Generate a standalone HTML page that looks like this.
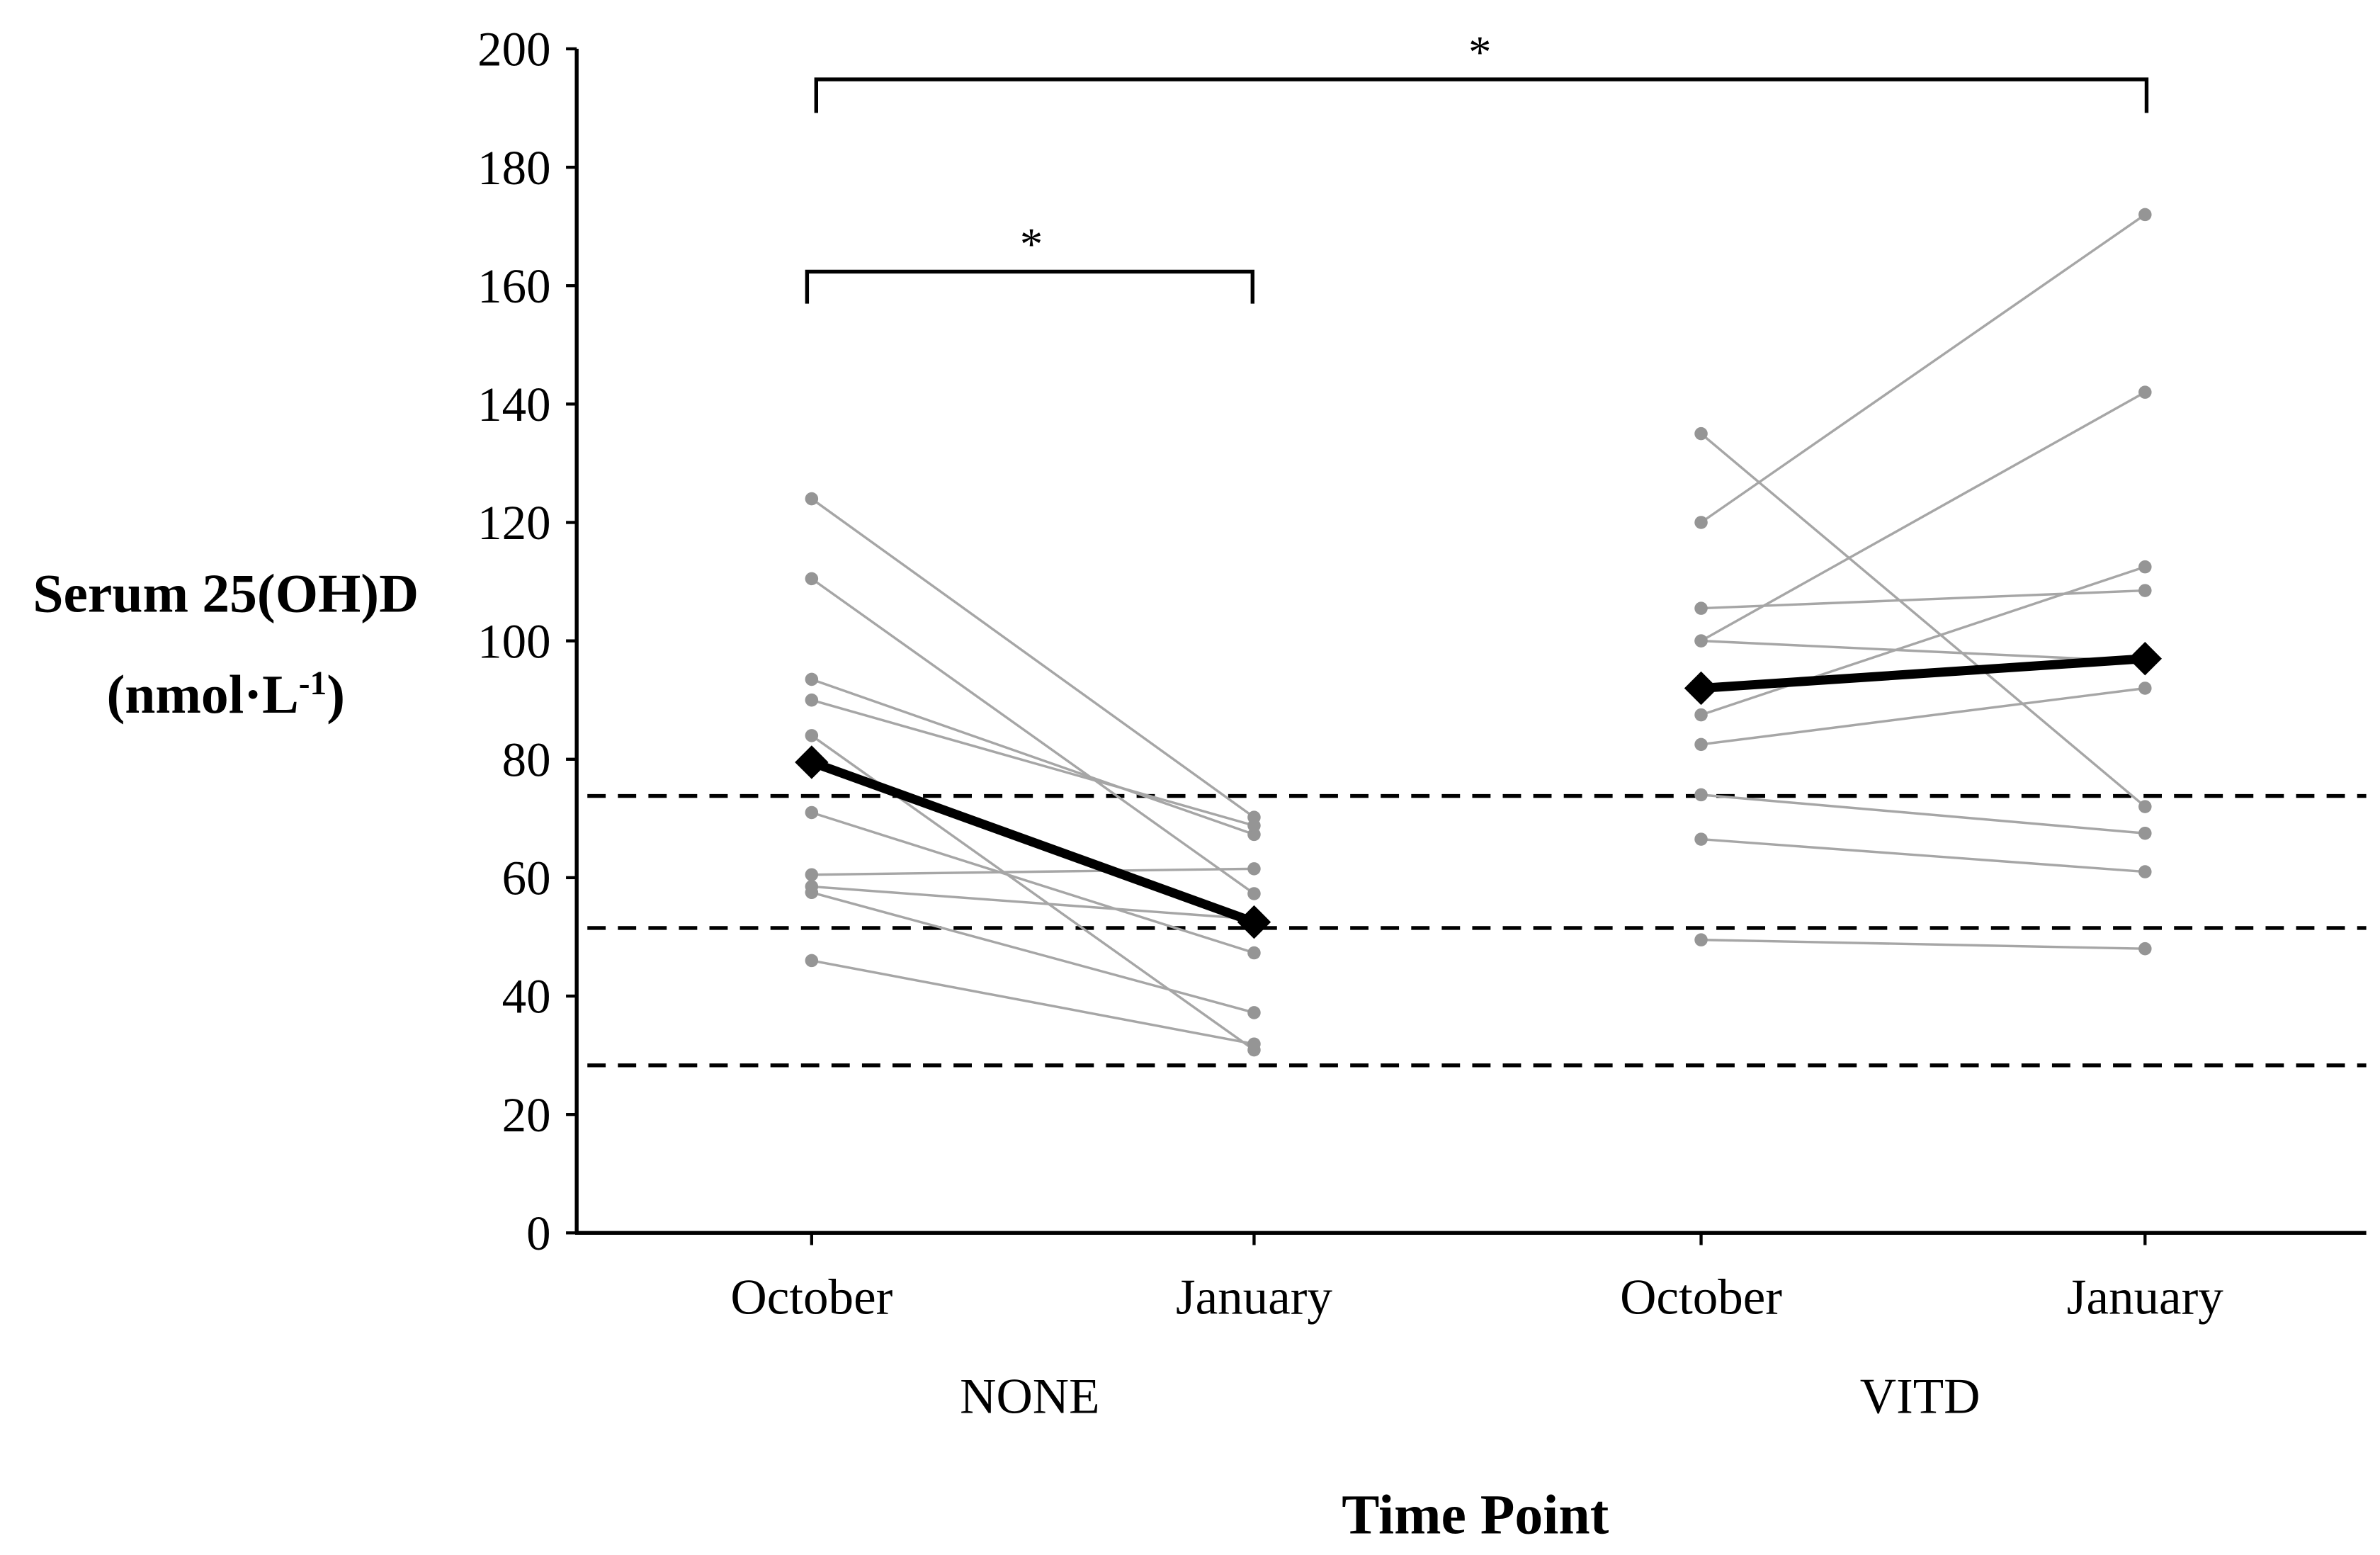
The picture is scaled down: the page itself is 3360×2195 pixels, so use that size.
<!DOCTYPE html>
<html><head><meta charset="utf-8"><style>html,body{margin:0;padding:0;background:#fff}svg{display:block}</style></head>
<body>
<svg id="chart" xmlns="http://www.w3.org/2000/svg" width="3360" height="2195" viewBox="0 0 1560 1019.1" font-family="'Liberation Serif', serif">
<g id="axes"></g>
<g id="refs"></g>
<g id="indiv"></g>
<g id="means"></g>
<g id="ann"></g>
<text x="148" y="401" text-anchor="middle" font-weight="bold" font-size="36">Serum 25(OH)D</text>
<text x="148" y="467" text-anchor="middle" font-weight="bold" font-size="36">(nmol·L<tspan dy="-12" font-size="22">-1</tspan><tspan dy="12">)</tspan></text>
<text x="967" y="1005" text-anchor="middle" font-weight="bold" font-size="37">Time Point</text>
</svg>
<script>
const categories = ["October","January","October","January"];
const groups = ["NONE","VITD"];
const yTicks = [0,20,40,60,80,100,120,140,160,180,200];
const refLines = [73.8,51.5,28.3];
const noneOct = [124,110.5,93.5,90,84,71,60.5,58.5,57.5,46];
const noneJan = [70.2,57.3,67.3,68.8,30.9,47.3,61.5,53,37.2,31.9];
const vitdOct = [135,120,100,105.5,100,87.5,82.5,74,66.5,49.5];
const vitdJan = [72,172,142,108.5,96.5,112.5,92,67.5,61,48];
const meanNone = [79.5,52.5];
const meanVitd = [92,97];

const NS="http://www.w3.org/2000/svg";
const catX=[532,822,1115,1406];
const xAt=i=>catX[i];
const yAt=v=>808-v*3.88;
function mk(parent,tag,attrs){const e=document.createElementNS(NS,tag);for(const k in attrs)e.setAttribute(k,attrs[k]);parent.appendChild(e);return e;}
const axes=document.getElementById('axes');
let e=mk(axes,'line',{x1:378,y1:yAt(200),x2:378,y2:808,stroke:'#000','stroke-width':2.5});


e=mk(axes,'line',{x1:377,y1:808,x2:1551,y2:808,stroke:'#000','stroke-width':2.5});


yTicks.forEach(t=>{
  const y=yAt(t);
  let l=mk(axes,'line',{x1:371,y1:y,x2:378,y2:y,stroke:'#000','stroke-width':2});
  
  
  let tx=mk(axes,'text',{x:361,y:y+11,'text-anchor':'end','font-size':32});
  tx.textContent=t;
  
  
});
categories.forEach((c,i)=>{
  let l=mk(axes,'line',{x1:xAt(i),y1:808,x2:xAt(i),y2:816,stroke:'#000','stroke-width':2});
  
  
  let tx=mk(axes,'text',{x:xAt(i),y:861,'text-anchor':'middle','font-size':33});
  tx.textContent=c;
  
  
});
groups.forEach((g,i)=>{
  let tx=mk(axes,'text',{x:(xAt(2*i)+xAt(2*i+1))/2-2,y:926,'text-anchor':'middle','font-size':33});
  tx.textContent=g;
  
  
});
const refs=document.getElementById('refs');
refLines.forEach(v=>{
  let l=mk(refs,'line',{x1:385,y1:yAt(v),x2:1551,y2:yAt(v),stroke:'#000','stroke-width':2.5,'stroke-dasharray':'12 8'});
  
  
});
const indiv=document.getElementById('indiv');
function pairs(a,b,i0){
  a.forEach((v,k)=>{
    let l=mk(indiv,'line',{x1:xAt(i0),y1:yAt(v),x2:xAt(i0+1),y2:yAt(b[k]),stroke:'#a6a6a6','stroke-width':1.6});
    
    
    [[i0,v],[i0+1,b[k]]].forEach(([i,val])=>{
      let c=mk(indiv,'circle',{cx:xAt(i),cy:yAt(val),r:4.3,fill:'#959595'});
      
      
    });
  });
}
pairs(noneOct,noneJan,0);
pairs(vitdOct,vitdJan,2);
const means=document.getElementById('means');
[[meanNone,0],[meanVitd,2]].forEach(([m,i0])=>{
  let l=mk(means,'line',{x1:xAt(i0),y1:yAt(m[0]),x2:xAt(i0+1),y2:yAt(m[1]),stroke:'#000','stroke-width':6});
  
  
  m.forEach((v,k)=>{
    const x=xAt(i0+k),y=yAt(v),d=11;
    let p=mk(means,'polygon',{points:`${x-d},${y} ${x},${y-d} ${x+d},${y} ${x},${y+d}`,fill:'#000'});
    
    
  });
});
const ann=document.getElementById('ann');
function bracket(x1,x2,yTop,yBot,sx,sy){
  let p=mk(ann,'polyline',{points:`${x1},${yBot} ${x1},${yTop} ${x2},${yTop} ${x2},${yBot}`,fill:'none',stroke:'#000','stroke-width':2.5});
  
  
  let t=mk(ann,'text',{x:sx,y:sy,'text-anchor':'middle','font-size':30});
  t.textContent='*';
  
  
}
bracket(535,1407,52,74,970,44);
bracket(529,821,178,199,676,170);
</script>
</body></html>
